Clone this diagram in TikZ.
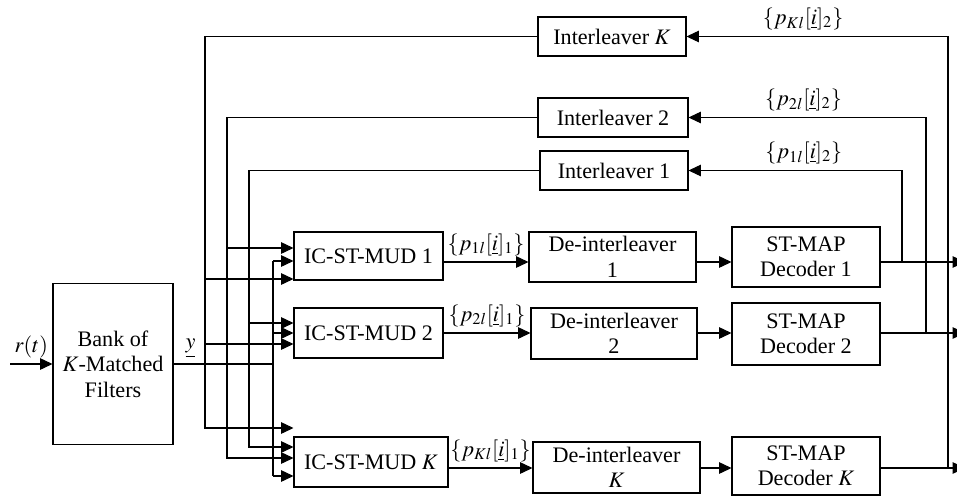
\documentclass[tikz,border=0pt]{standalone}
\usepackage{mathptmx}
\usepackage{fontspec}
\setmainfont{Liberation Serif}
\usetikzlibrary{arrows.meta}

\begin{document}
\begin{tikzpicture}[x=0.02cm, y=-0.02cm, line width=0.6pt, >={Triangle[length=7pt,width=6.5pt]},
	every node/.style={font=\fontsize{12.6}{14.5}\selectfont}]
	\tikzset{blk/.style={draw, align=center, inner sep=1pt, minimum height=1cm}}
	\useasboundingbox (0,0) rectangle (957,497);
	% front end and detectors
	\node[blk, minimum width=2.4cm, minimum height=3.22cm] (bank) at (113,364) {Bank of\\$K$-Matched\\Filters};
	\node[blk, minimum width=2.98cm, minimum height=0.96cm] (mud1) at (368.5,256) {IC-ST-MUD 1};
	\node[blk, minimum width=2.98cm] (mud2) at (368.5,333) {IC-ST-MUD 2};
	\node[blk, minimum width=3.08cm] (mudK) at (371,462) {IC-ST-MUD $K$};
	\node[blk, minimum width=3.34cm] (dei1) at (612.5,257) {De-interleaver\\1};
	\node[blk, minimum width=3.32cm, minimum height=1.02cm] (dei2) at (614,333.5) {De-interleaver\\2};
	\node[blk, minimum width=3.34cm, minimum height=1.02cm] (deiK) at (616.5,467.5) {De-interleaver\\$K$};
	\node[blk, minimum width=2.96cm, minimum height=1.2cm] (dec1) at (806,257) {ST-MAP\\Decoder 1};
	\node[blk, minimum width=2.96cm, minimum height=1.24cm] (dec2) at (806,334) {ST-MAP\\Decoder 2};
	\node[blk, minimum width=2.96cm, minimum height=1.16cm] (decK) at (806,466) {ST-MAP\\Decoder $K$};
	% feedback interleavers
	\node[blk, minimum width=2.96cm, minimum height=0.78cm] (intK) at (612,36.5) {Interleaver $K$};
	\node[blk, minimum width=3.0cm, minimum height=0.78cm] (int2) at (613,117.5) {Interleaver 2};
	\node[blk, minimum width=2.96cm, minimum height=0.78cm] (int1) at (614,170.5) {Interleaver 1};
	% rows, taps and bus points
	\coordinate (row1) at (0,262); \coordinate (row2) at (0,333); \coordinate (rowK) at (0,468);
	\coordinate (tap1) at (902,262); \coordinate (tap2) at (926,333); \coordinate (tapK) at (948,468);
	\coordinate (out1) at (965,262); \coordinate (out2) at (965,333); \coordinate (outK) at (965,468);
	\coordinate (rin) at (10,364);
	\coordinate (busK) at (205,428); \coordinate (bus2) at (227,458); \coordinate (bus1) at (249,447);
	\coordinate (k1) at (205,279); \coordinate (k2) at (205,344);
	\coordinate (a1) at (227,248); \coordinate (b2) at (249,323);
	\coordinate (y1) at (273,261); \coordinate (y2) at (273,333); \coordinate (yK) at (273,476);
	
	\draw[->] (rin) -- node[above]{$r(t)$} (bank.west);
	\draw (bank.east) -- node[pos=0.17, above]{$\underline{y}$} (bank.east -| y1);
	\draw (y1) -- (yK);
	\foreach \p/\b in {y1/mud1, y2/mud2, yK/mudK, k1/mud1, k2/mud2, a1/mud1, b2/mud2}
		\draw[->] (\p) -- (\p -| \b.west);
	\draw[->] (intK.west) -| (busK) -- (busK -| mudK.west);
	\draw[->] (int2.west) -| (bus2) -- (bus2 -| mudK.west);
	\draw[->] (int1.west) -| (bus1) -- (bus1 -| mudK.west);
	
	\draw[->] (mud1.east |- row1) -- node[above]{$\{p_{1l}[\underline{i}]_1\}$} (dei1.west |- row1);
	\draw[->] (mud2.east |- row2) -- node[above]{$\{p_{2l}[\underline{i}]_1\}$} (dei2.west |- row2);
	\draw[->] (mudK.east |- rowK) -- node[above]{$\{p_{Kl}[\underline{i}]_1\}$} (deiK.west |- rowK);
	\draw[->] (dei1.east |- row1) -- (dec1.west |- row1);
	\draw[->] (dei2.east |- row2) -- (dec2.west |- row2);
	\draw[->] (deiK.east |- rowK) -- (decK.west |- rowK);
	\draw[->] (dec1.east |- row1) -- (out1);
	\draw[->] (dec2.east |- row2) -- (out2);
	\draw[->] (decK.east |- rowK) -- (outK);
	
	\draw[->] (tap1) |- node[pos=0.73, above]{$\{p_{1l}[\underline{i}]_2\}$} (int1.east);
	\draw[->] (tap2) |- node[pos=0.758, above]{$\{p_{2l}[\underline{i}]_2\}$} (int2.east);
	\draw[->] (tapK) |- node[pos=0.777, above]{$\{p_{Kl}[\underline{i}]_2\}$} (intK.east);
\end{tikzpicture}
\end{document}
